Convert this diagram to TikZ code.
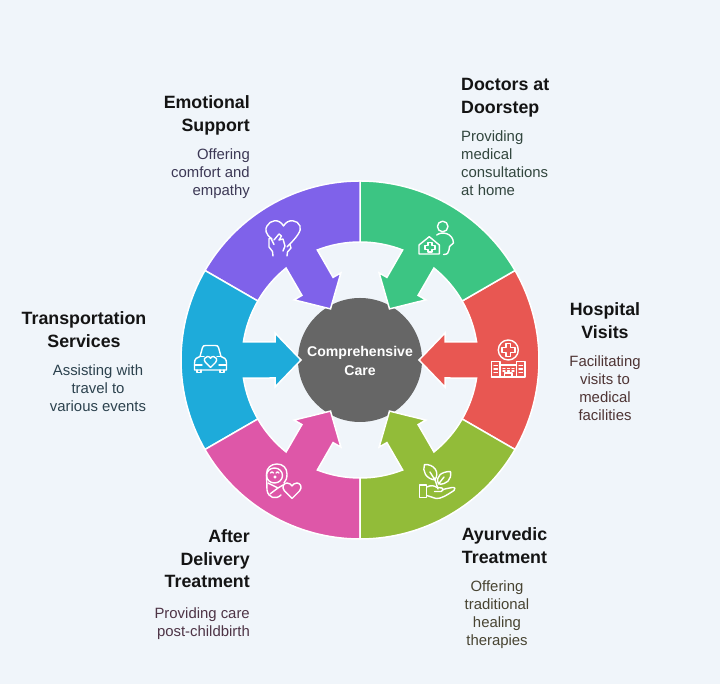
\documentclass[tikz,border=0pt]{standalone}
\usepackage{fontspec}
\setmainfont{Liberation Sans}
\definecolor{bgc}{HTML}{F0F5FA}
\definecolor{cgreen}{HTML}{3CC583}
\definecolor{cred}{HTML}{E85752}
\definecolor{colive}{HTML}{92BC39}
\definecolor{cmag}{HTML}{DE57A8}
\definecolor{cblue}{HTML}{1EABDA}
\definecolor{cpurple}{HTML}{7F62EA}
\definecolor{ccore}{HTML}{666666}
\newcommand{\ringseg}[2]{%
  \begin{scope}[shift={(360,324)},rotate=#1]
    \fill[#2,draw=white,line width=1.5pt,line join=miter]
      (30:179) arc[start angle=30,end angle=-30,radius=179]
      -- (-30:118) arc[start angle=-30,end angle=-8.8,radius=118]
      -- (85,-18) -- (85,-27) -- (59,0) -- (85,27) -- (85,18)
      -- (8.8:118) arc[start angle=8.8,end angle=30,radius=118] -- cycle;
  \end{scope}}
\tikzset{
  head/.style={font=\fontsize{17.8}{22.6}\selectfont\bfseries,inner sep=0pt,text=black!92},
  body/.style={font=\fontsize{14.9}{18}\selectfont,inner sep=0pt},
  icon/.style={draw=white,line width=1.4pt,line cap=round,line join=round,fill=none}
}
\begin{document}
\begin{tikzpicture}[x=1pt,y=1pt]
\useasboundingbox (0,0) rectangle (720,684);
\fill[bgc] (0,0) rectangle (720,684);
\node[circle,fill=ccore,minimum size=124pt,inner sep=0pt] (core) at (360,324) {};
\ringseg{0}{cred}
\ringseg{60}{cgreen}
\ringseg{120}{cpurple}
\ringseg{180}{cblue}
\ringseg{240}{cmag}
\ringseg{300}{colive}
\node[inner sep=0pt,text=white,align=center,font=\fontsize{14.1}{18.5}\selectfont\bfseries] (corelabel) at (360,322.8) {Comprehensive\\Care};
% labels (positions in y-up coordinates)
\node[head,align=left,anchor=west] (h1) at (461,586.5) {Doctors at\\Doorstep};
\node[body,align=left,anchor=west,text={rgb,255:red,50;green,70;blue,62}] (b1) at (461,521) {Providing\\medical\\consultations\\at home};
\node[head,align=right,anchor=east] (h2) at (250,568.5) {Emotional\\Support};
\node[body,align=right,anchor=east,text={rgb,255:red,60;green,56;blue,85}] (b2) at (250,510) {Offering\\comfort and\\empathy};
\node[head,align=center] (h3) at (605,363.5) {Hospital\\Visits};
\node[body,align=center,text={rgb,255:red,78;green,52;blue,52}] (b3) at (605,296) {Facilitating\\visits to\\medical\\facilities};
\node[head,align=center] (h4) at (84,354.5) {Transportation\\Services};
\node[body,align=center,text={rgb,255:red,44;green,66;blue,78}] (b4) at (98,296) {Assisting with\\travel to\\various events};
\node[head,align=center] (h5) at (504.5,138.5) {Ayurvedic\\Treatment};
\node[body,align=center,text={rgb,255:red,72;green,68;blue,50}] (b5) at (497,69) {Offering\\traditional\\healing\\therapies};
\node[head,align=right,anchor=east] (h6) at (250,125) {After\\Delivery\\Treatment};
\node[body,align=right,anchor=east,text={rgb,255:red,78;green,52;blue,70}] (b6) at (250,60) {Providing care\\post-childbirth};
% icons, in pixel coordinates with y downward
\begin{scope}[shift={(0,684)},yscale=-1]
% emotional support
\draw[icon] (272,239) .. controls (265,234) and (265,229) .. (267,226)
  .. controls (270,220) and (279,218) .. (283.5,226)
  .. controls (288,218) and (298,220) .. (300,226)
  .. controls (302,231) and (296,238) .. (287,247);
\draw[icon] (273,256) -- (272.5,251.5) -- (269,247) -- (269,238.5) -- (271,238.5) -- (274,244.5)
  (274,240) -- (279,234) -- (281.5,236) -- (279,240) -- (283,239) -- (285,246) -- (283,251)
  (290,244.5) -- (291,248) -- (287.5,252) -- (287,256);
% doctors
\draw[icon] (442.7,226.5) circle (5.3);
\draw[icon] (436.7,235) .. controls (442,231) and (453,233) .. (453.5,243) -- (449.5,246.5)
  -- (449,250) .. controls (449,253) and (447,254.5) .. (443.5,254.5);
\draw[icon] (419,254) -- (419,245) -- (429.3,236.7) -- (439.3,245) -- (439.3,254) -- cycle;
\draw[icon] (428,242.5) -- (432,242.5) -- (432,245.5) -- (435,245.5) -- (435,249.5) -- (432,249.5)
  -- (432,252) -- (428,252) -- (428,249.5) -- (425,249.5) -- (425,245.5) -- (428,245.5) -- cycle;
% hospital
\draw[icon] (508.3,350) circle (10);
\draw[icon] (506,343.5) -- (510.5,343.5) -- (510.5,347.7) -- (514.8,347.7) -- (514.8,352.3) -- (510.5,352.3)
  -- (510.5,356.5) -- (506,356.5) -- (506,352.3) -- (501.8,352.3) -- (501.8,347.7) -- (506,347.7) -- cycle;
\draw[icon] (491.5,377) -- (491.5,361.7) -- (500,361.7) -- (500,377)
  (516.5,377) -- (516.5,361.7) -- (525,361.7) -- (525,377)
  (491.5,377) -- (525,377) (500,365) -- (516.5,365)
  (504.5,377) -- (504.5,373) -- (512,373) -- (512,377)
  (494,365.5) -- (497.5,365.5) (494,369) -- (497.5,369) (494,372.5) -- (497.5,372.5)
  (519,365.5) -- (522.5,365.5) (519,369) -- (522.5,369) (519,372.5) -- (522.5,372.5)
  (503,368.5) -- (505,368.5) (507.5,368.5) -- (509.5,368.5) (512,368.5) -- (514,368.5)
  (503,371) -- (505,371) (507.5,371) -- (509.5,371) (512,371) -- (514,371);
% ayurvedic
\draw[icon] (435,480) .. controls (426,479) and (422,471) .. (424.5,464.5)
  .. controls (434,464) and (440,472) .. (435,480) -- (430,472);
\draw[icon] (438.5,484) .. controls (435,476) and (442,471.5) .. (450.5,471.5)
  .. controls (452,480) and (446,485) .. (438.5,484) -- (444,477);
\draw[icon] (434.5,478) -- (438,489);
\draw[icon] (419.5,485) rectangle (426.7,497.5);
\draw[icon] (426.7,487) .. controls (431,485) and (434,485.5) .. (437,487.5) -- (442,488)
  .. controls (444,489) and (443,491.5) .. (441,491.5) -- (434.5,491.5)
  (442.5,489.5) -- (452,487.5) .. controls (455,487) and (456,489) .. (454,490.5)
  .. controls (447,495) and (441,499) .. (436,498.5) -- (426.7,495.5);
% after delivery
\draw[icon] (281,495) .. controls (276,500) and (268,498) .. (267,490)
  -- (266.5,474) .. controls (266.5,468) and (271,464) .. (277,464)
  .. controls (283,464) and (287,468) .. (287,474) .. controls (287,478) and (286,481) .. (284,483);
\draw[icon] (274.5,475.5) ellipse (8 and 7.5);
\draw[icon] (268,483) -- (278,488) -- (283,485) (278,488) -- (270,494);
\draw[icon] (270.5,473) .. controls (271,471.5) and (273,471.5) .. (273.5,473)
  (276,473) .. controls (276.5,471.5) and (278.5,471.5) .. (279,473)
  (275,477) circle (0.8);
\draw[icon] (292,498.5) -- (284.5,491) .. controls (281,487) and (284,483) .. (287,483)
  .. controls (289.5,483) and (291,484.5) .. (292,486)
  .. controls (293,484.5) and (294.5,483) .. (297,483)
  .. controls (300,483) and (303,487) .. (299.5,491) -- cycle;
% transportation
\draw[icon] (194.5,363) -- (194.5,370) -- (226.5,370) -- (226.5,363) .. controls (226.5,359) and (224,357) .. (221,356.5)
  -- (218.5,347.5) .. controls (218,346) and (217,345.5) .. (215.5,345.5) -- (205.5,345.5)
  .. controls (204,345.5) and (203,346) .. (202.5,347.5) -- (200,356.5)
  .. controls (197,357) and (194.5,359) .. (194.5,363) -- cycle;
\draw[icon] (200,356.5) -- (204,356.5) (221,356.5) -- (217,356.5)
  (194.5,365) -- (202,365) (226.5,365) -- (219,365)
  (197,370) -- (197,372.5) -- (201,372.5) -- (201,370)
  (220,370) -- (220,372.5) -- (224,372.5) -- (224,370);
\draw[icon] (210.5,367.5) -- (205.5,362.5) .. controls (203,359.5) and (205,356.5) .. (207.5,356.5)
  .. controls (209,356.5) and (210,357.3) .. (210.5,358.3)
  .. controls (211,357.3) and (212,356.5) .. (213.5,356.5)
  .. controls (216,356.5) and (218,359.5) .. (215.5,362.5) -- cycle;
\end{scope}
\end{tikzpicture}
\end{document}
